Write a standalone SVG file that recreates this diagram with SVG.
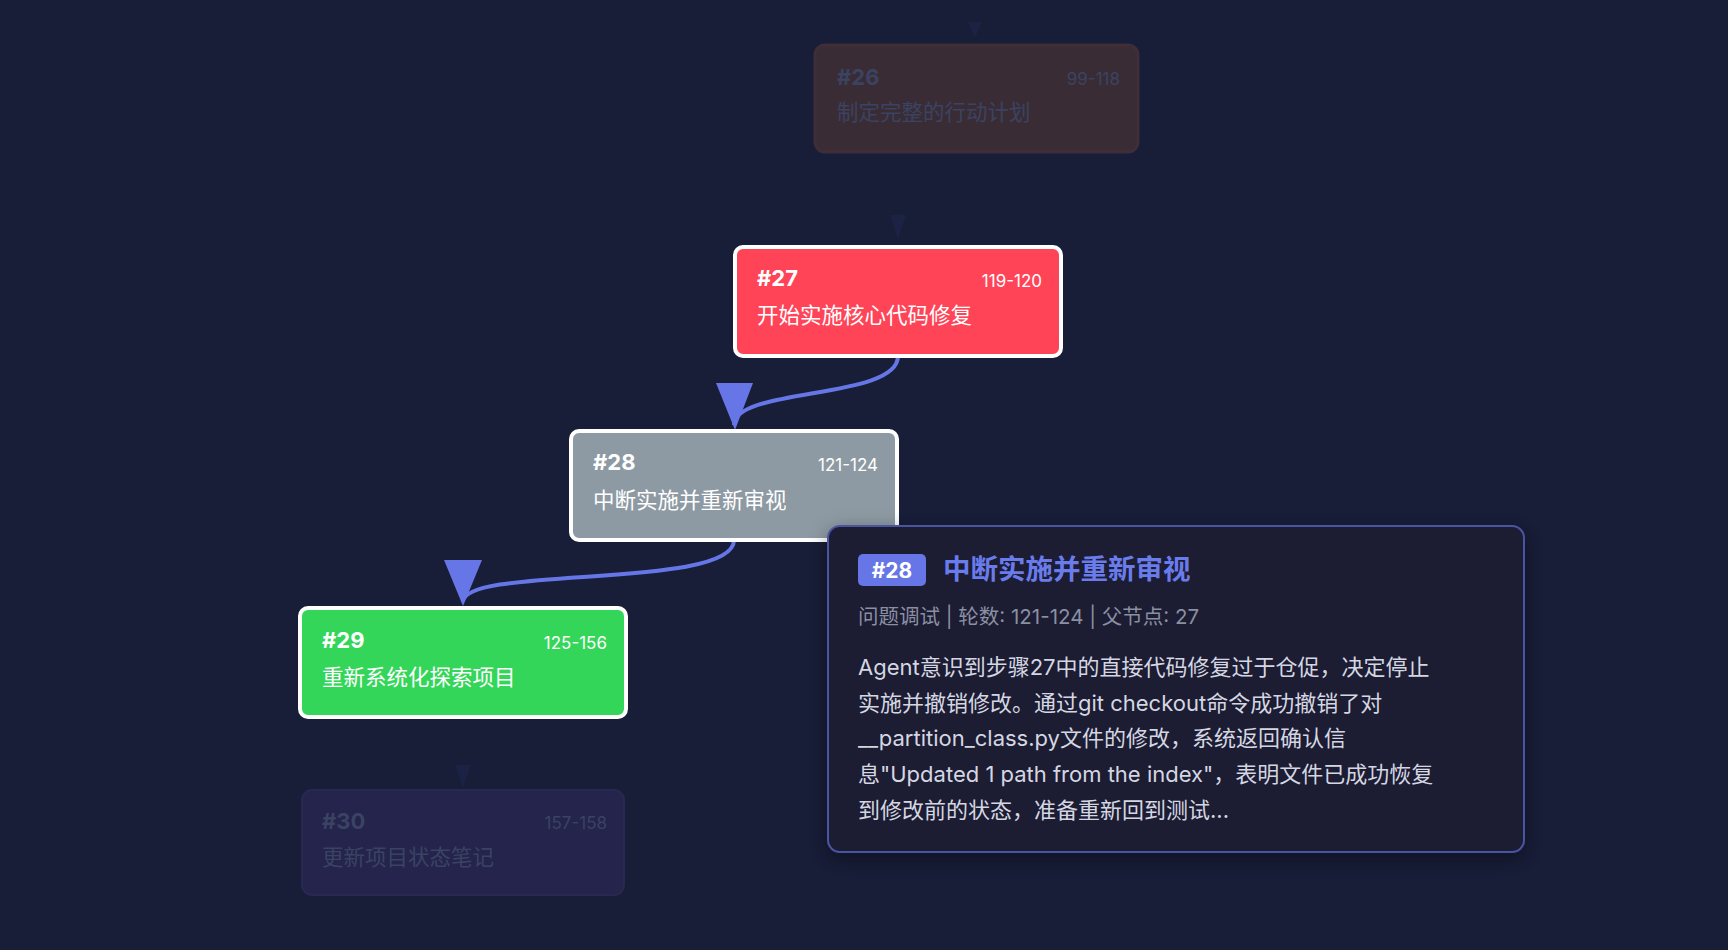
<svg xmlns="http://www.w3.org/2000/svg" width="1728" height="950" viewBox="0 0 1728 950">
<style>
text{font-family:Inter,"Noto Sans CJK SC","Noto Sans",sans-serif}
.num{font-size:22px;font-weight:700;fill:#fff}
.rng{font-size:17px;fill:#fff;text-anchor:end}
.ttl{font-size:21.5px;fill:#fff}
.fnum{font-size:22px;font-weight:700;fill:#3a4362}
.frng{font-size:17px;fill:#3a4362;text-anchor:end}
.fttl{font-size:21.5px;fill:#3a4362}
.body{font-size:22px;fill:#d4d7e2}
</style>
<defs>
<filter id="sh" x="-10%" y="-10%" width="120%" height="130%"><feDropShadow dx="0" dy="6" stdDeviation="10" flood-color="#000" flood-opacity="0.4"/></filter>
</defs>
<rect width="1728" height="950" fill="#181d38"/>
<g id="connectors">
<polygon points="968,22 982,22 975,38" fill="#1b2244"/>
<polygon points="890,215 906,215 898,240" fill="#1b2244"/>
<polygon points="455,765 471,765 463,788" fill="#1b2244"/>
<path d="M898,356 C898,400 734,387 734,425" fill="none" stroke="#6676e6" stroke-width="4"/>
<polygon points="716,383 753,383 735,430" fill="#6676e6"/>
<path d="M734,540 C734,590 463,565 463,602" fill="none" stroke="#6676e6" stroke-width="4"/>
<polygon points="444,560 482,560 463,606" fill="#6676e6"/>
</g>
<g id="n26">
<rect x="815" y="45" width="323" height="107" rx="10" fill="#3a2c35" stroke="#3f2e38" stroke-width="3"/>
<text class="fnum" x="837" y="85">#26</text><text class="frng" x="1120" y="85">99-118</text>
<text class="fttl" x="837" y="120">制定完整的行动计划</text>
</g>
<g id="n27">
<rect x="735" y="247" width="326" height="109" rx="8" fill="#ff4458" stroke="#fff" stroke-width="4"/>
<text class="num" x="757" y="286">#27</text><text class="rng" x="1042" y="287">119-120</text>
<text class="ttl" x="757" y="323">开始实施核心代码修复</text>
</g>
<g id="n28">
<rect x="571" y="431" width="326" height="109" rx="8" fill="#8e9aa3" stroke="#fff" stroke-width="4"/>
<text class="num" x="593" y="470">#28</text><text class="rng" x="878" y="471">121-124</text>
<text class="ttl" x="593" y="508">中断实施并重新审视</text>
</g>
<g id="n29">
<rect x="300" y="608" width="326" height="109" rx="8" fill="#34d65a" stroke="#fff" stroke-width="4"/>
<text class="num" x="322" y="648">#29</text><text class="rng" x="607" y="649">125-156</text>
<text class="ttl" x="322" y="685">重新系统化探索项目</text>
</g>
<g id="n30">
<rect x="302" y="790" width="322" height="105" rx="10" fill="#25244d" stroke="#282850" stroke-width="2"/>
<text class="fnum" x="322" y="829">#30</text><text class="frng" x="607" y="829">157-158</text>
<text class="fttl" x="322" y="865">更新项目状态笔记</text>
</g>
<g id="tooltip">
<rect x="828" y="526" width="696" height="326" rx="12" fill="#1c1d33" stroke="#4a55a0" stroke-width="2" filter="url(#sh)"/>
<rect x="858" y="554" width="68" height="32" rx="5" fill="#6676e6"/>
<text x="892" y="578" font-size="21" font-weight="700" fill="#fff" text-anchor="middle">#28</text>
<text x="943" y="579" font-size="27.5" font-weight="700" fill="#6a7cec">中断实施并重新审视</text>
<text x="858" y="624" font-size="20.5" fill="#8a8fa2">问题调试 | 轮数: 121-124 | 父节点: 27</text>
<text class="body" x="858" y="675">Agent意识到步骤27中的直接代码修复过于仓促，决定停止</text>
<text class="body" x="858" y="711">实施并撤销修改。通过git checkout命令成功撤销了对</text>
<text class="body" x="858" y="746">__partition_class.py文件的修改，系统返回确认信</text>
<text class="body" x="858" y="782">息"Updated 1 path from the index"，表明文件已成功恢复</text>
<text class="body" x="858" y="818">到修改前的状态，准备重新回到测试...</text>
</g>
</svg>
